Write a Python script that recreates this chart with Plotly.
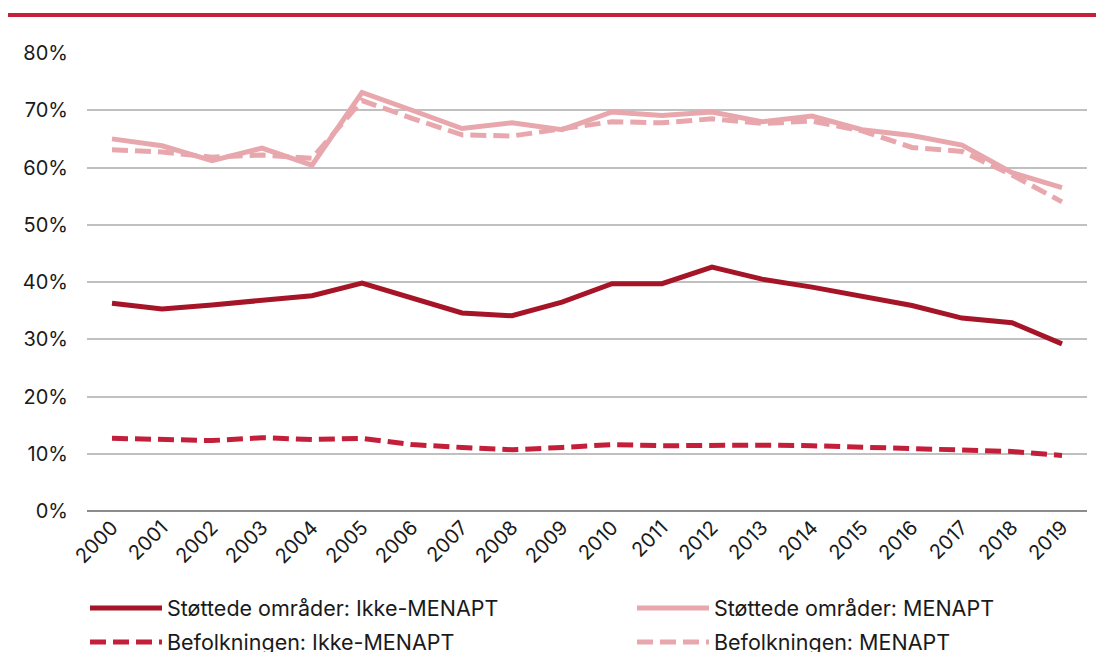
import plotly.graph_objects as go

years = [str(y) for y in range(2000, 2020)]

stottede_ikke_menapt = [36.3, 35.3, 36.0, 36.9, 37.6, 39.8, 37.2, 34.6, 34.1, 36.5,
                        39.7, 39.7, 42.6, 40.5, 39.1, 37.6, 35.9, 33.7, 32.9, 29.2]
stottede_menapt = [65.0, 63.8, 61.2, 63.4, 60.4, 73.1, 70.0, 66.8, 67.8, 66.6,
                   69.7, 69.1, 69.7, 68.0, 69.0, 66.6, 65.6, 63.9, 59.1, 56.5]
befolkning_ikke_menapt = [12.7, 12.5, 12.3, 12.8, 12.5, 12.7, 11.6, 11.1, 10.7, 11.1,
                          11.6, 11.4, 11.5, 11.5, 11.4, 11.2, 11.0, 10.6, 10.4, 9.7]
befolkning_menapt = [63.1, 62.7, 61.8, 62.2, 61.6, 71.7, 68.6, 65.7, 65.5, 66.7,
                     68.0, 67.8, 68.5, 67.7, 68.1, 66.4, 63.5, 62.8, 58.7, 54.0]

y_ticks = [0, 10, 20, 30, 40, 50, 60, 70, 80]
y_labels = [f"{v}%" for v in y_ticks]

DARK = "#A51527"
RED = "#C41F3A"
PINK = "#E8A7AD"
FONT = "Inter, Roboto, sans-serif"
DASH = "16px,7px"

fig = go.Figure()
fig.add_trace(go.Scatter(x=years, y=stottede_ikke_menapt, mode="lines",
                         name="Støttede områder: Ikke-MENAPT", legend="legend",
                         line=dict(color=DARK, width=5)))
fig.add_trace(go.Scatter(x=years, y=stottede_menapt, mode="lines",
                         name="Støttede områder: MENAPT", legend="legend2",
                         line=dict(color=PINK, width=5)))
fig.add_trace(go.Scatter(x=years, y=befolkning_ikke_menapt, mode="lines",
                         name="Befolkningen: Ikke-MENAPT", legend="legend3",
                         line=dict(color=RED, width=5, dash=DASH)))
fig.add_trace(go.Scatter(x=years, y=befolkning_menapt, mode="lines",
                         name="Befolkningen: MENAPT", legend="legend4",
                         line=dict(color=PINK, width=5, dash=DASH)))

fig.add_shape(type="line", xref="paper", yref="paper",
              x0=-0.079, x1=1.009, y0=1.083, y1=1.083,
              line=dict(color="#C8203A", width=4))

def leg(x, y):
    return dict(x=x, xanchor="left", y=y, yanchor="middle", itemwidth=72,
                font=dict(family=FONT, size=21.5, color="#1a1a1a"),
                bgcolor="rgba(0,0,0,0)", borderwidth=0)

fig.update_layout(
    width=1096, height=652,
    margin=dict(l=87, r=9, t=53, b=141, autoexpand=False),
    paper_bgcolor="white", plot_bgcolor="white",
    font=dict(family=FONT, size=20, color="#1a1a1a"),
    showlegend=True,
    legend=leg(-0.002, -0.2118),
    legend2=leg(0.545, -0.2118),
    legend3=leg(-0.002, -0.286),
    legend4=leg(0.545, -0.286),
    xaxis=dict(type="category", range=[-0.5, 19.5], tickangle=-45, showgrid=False,
               ticks="", showline=False, tickfont=dict(size=20)),
    yaxis=dict(range=[0, 80], tickvals=y_ticks, ticktext=y_labels,
               showgrid=True, gridcolor="#C0C0C0", gridwidth=1.5,
               zeroline=True, zerolinecolor="#8C8C8C", zerolinewidth=1.5,
               ticks="", ticklabelstandoff=18, tickfont=dict(size=20)),
)

fig.write_html("out.html", config={"displayModeBar": False},
               post_script="document.body.style.margin='0';document.body.style.padding='0';")
